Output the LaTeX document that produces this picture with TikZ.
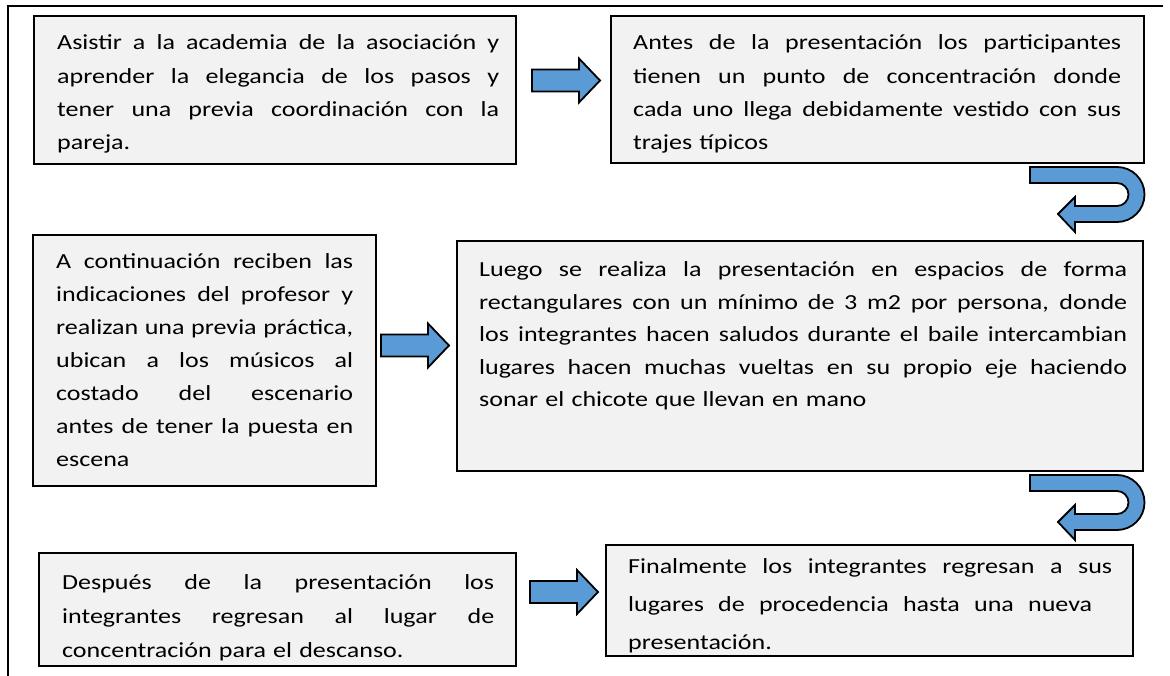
\documentclass[tikz,border=0pt]{standalone}
\usepackage{fontspec}
\setmainfont{Carlito}[FakeStretch=1.21]
\definecolor{boxfill}{HTML}{F2F2F2}
\definecolor{arrowblue}{HTML}{5B9BD5}
% justified line of a given width (\jw is set per text node)
\newcommand\jline[1]{\makebox[\jw][s]{\spaceskip=0pt\xspaceskip=0pt #1}\\}
\newcommand\jlinew[2]{\makebox[#1][s]{\spaceskip=0pt\xspaceskip=0pt #2}\\}
\tikzset{
  stepbox/.style={draw=black, line width=1.3pt, fill=boxfill, inner sep=0pt, outer sep=0pt, anchor=north west},
  boxtext/.style={anchor=base west, inner sep=0pt, align=left},
  blockarrow/.style={fill=arrowblue, draw=black, line width=1.8pt, line join=miter},
  frameline/.style={line width=2pt},
  pics/rarrow/.style={code={
     \draw[blockarrow] (0,-11) -- (47,-11) -- (47,-22) -- (68,0) -- (47,22) -- (47,11) -- (0,11) -- cycle;}},
  pics/uturn/.style={code={
     \draw[blockarrow] (0,0) -- (87,0) arc[start angle=90,end angle=-90,radius=27.5]
       -- (45,-55) -- (45,-65) -- (28,-47) -- (45,-30) -- (45,-39) -- (87,-39)
       arc[start angle=-90,end angle=90,radius=11.5] -- (0,-16) -- cycle;}},
}
\begin{document}
\begin{tikzpicture}[x=1pt,y=1pt]
\useasboundingbox (0,0) rectangle (1170,-676);
% frame
\coordinate (ftl) at (8,-6);
\coordinate (ftr) at (1163,-6);
\coordinate (fbl) at (8,-676);
\draw[frameline] (ftr) -- (ftl) -- (fbl);

% box 1
\node[stepbox, minimum width=482pt, minimum height=148pt] (b1) at (34,-16) {};
\begin{scope}
\clip (b1.south west) rectangle (b1.north east);
\node[boxtext, text width=446pt, font=\fontsize{21.5}{33.3}\selectfont\def\jw{442pt}] (t1) at (57,-50) {%
\jline{Asistir a la academia de la asociación y}
\jline{aprender la elegancia de los pasos y}
\jline{tener una previa coordinación con la}
pareja.};
\end{scope}

% box 2
\node[stepbox, minimum width=533pt, minimum height=147pt] (b2) at (611,-16) {};
\begin{scope}
\clip (b2.south west) rectangle (b2.north east);
\node[boxtext, text width=492pt, font=\fontsize{21.5}{33.3}\selectfont\def\jw{488pt}] (t2) at (633,-50) {%
\jline{Antes de la presentación los participantes}
\jline{tienen un punto de concentración donde}
\jline{cada uno llega debidamente vestido con sus}
trajes típicos};
\end{scope}

% box 3
\node[stepbox, minimum width=343pt, minimum height=251pt] (b3) at (33,-235) {};
\begin{scope}
\clip (b3.south west) rectangle (b3.north east);
\node[boxtext, text width=300pt, font=\fontsize{21.5}{33}\selectfont\def\jw{297pt}] (t3) at (56,-269) {%
\jline{A continuación reciben las}
\jline{indicaciones del profesor y}
\jline{realizan una previa práctica,}
\jline{ubican a los músicos al}
\jline{costado del escenario}
\jline{antes de tener la puesta en}
escena};
\end{scope}

% box 4
\node[stepbox, minimum width=686pt, minimum height=230pt] (b4) at (457,-241) {};
\begin{scope}
\clip (b4.south west) rectangle (b4.north east);
\node[boxtext, text width=652pt, font=\fontsize{21.5}{32.5}\selectfont\def\jw{648pt}] (t4) at (479,-277) {%
\jline{Luego se realiza la presentación en espacios de forma}
\jline{rectangulares con un mínimo de 3 m2 por persona, donde}
\jline{los integrantes hacen saludos durante el baile intercambian}
\jline{lugares hacen muchas vueltas en su propio eje haciendo}
sonar el chicote que llevan en mano};
\end{scope}

% box 5
\node[stepbox, minimum width=477pt, minimum height=113pt] (b5) at (39,-553) {};
\begin{scope}
\clip (b5.south west) rectangle (b5.north east);
\node[boxtext, text width=436pt, font=\fontsize{21.5}{34}\selectfont\def\jw{432pt}] (t5) at (62,-589) {%
\jline{Después de la presentación los}
\jline{integrantes regresan al lugar de}
concentración para el descanso.};
\end{scope}

% box 6
\node[stepbox, minimum width=527pt, minimum height=111pt] (b6) at (606,-545) {};
\begin{scope}
\clip (b6.south west) rectangle (b6.north east);
\node[boxtext, text width=490pt, font=\fontsize{21.5}{38}\selectfont] (t6) at (628,-573) {%
\jlinew{484pt}{Finalmente los integrantes regresan a sus}
\jlinew{464pt}{lugares de procedencia hasta una nueva}
presentación.};
\end{scope}

% arrows
\pic (a1) at (532,-80.5) {rarrow};
\pic (a2) at (381,-345.5) {rarrow};
\pic (a3) at (530,-592) {rarrow};
\pic (u1) at (1030,-167) {uturn};
\pic (u2) at (1030,-475) {uturn};
\end{tikzpicture}
\end{document}
